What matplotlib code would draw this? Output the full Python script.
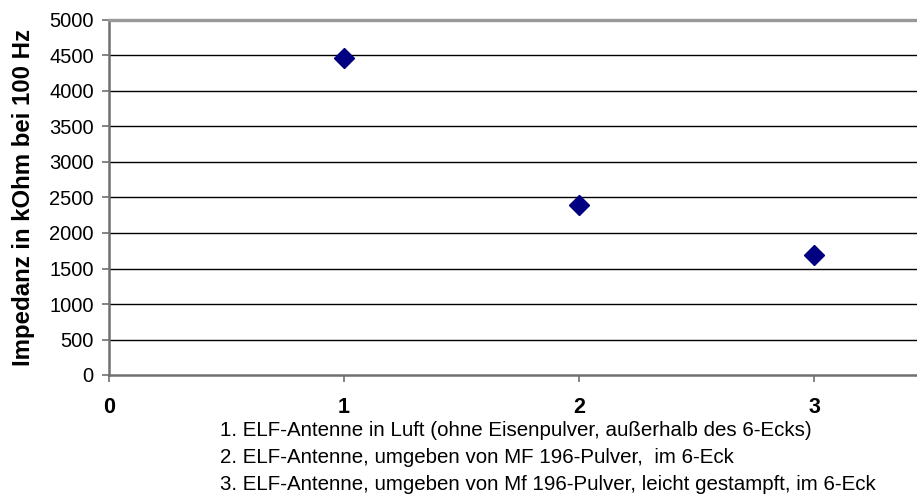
import matplotlib.pyplot as plt

# Messpunkte
versuch = [1, 2, 3]
impedanz = [4470, 2390, 1690]

x_ticks = [0, 1, 2, 3]
y_ticks = list(range(0, 5001, 500))

caption = [
    "1. ELF-Antenne in Luft (ohne Eisenpulver, außerhalb des 6-Ecks)",
    "2. ELF-Antenne, umgeben von MF 196-Pulver,  im 6-Eck",
    "3. ELF-Antenne, umgeben von Mf 196-Pulver, leicht gestampft, im 6-Eck",
]

def main():
    plt.rcParams['font.family'] = ['Liberation Sans', 'DejaVu Sans']

    fig = plt.figure(figsize=(9.17, 4.99), dpi=100)
    ax = fig.add_axes([109/917, 124/499, 1 - 109/917, 355/499])

    # Gitter
    for y in y_ticks[1:-1]:
        ax.axhline(y, color='black', lw=1, zorder=1)

    ax.plot(versuch, impedanz, linestyle='none', marker='D', ms=10,
            color='#000080', zorder=3)

    ax.set_xlim(0, (917 - 109) / 235)
    ax.set_ylim(0, 5000)
    ax.set_xticks(x_ticks)
    ax.set_yticks(y_ticks)

    for lbl in ax.get_xticklabels():
        lbl.set_fontweight('bold')
        lbl.set_fontsize(15.5)
    for lbl in ax.get_yticklabels():
        lbl.set_fontsize(14.5)

    ax.tick_params(axis='x', direction='out', length=5, width=1.2,
                   color='#707070', pad=11)
    ax.tick_params(axis='y', direction='out', length=5, width=1.2,
                   color='#707070', pad=6)

    ax.spines['right'].set_visible(False)
    for side in ('left', 'bottom'):
        ax.spines[side].set_color('#707070')
        ax.spines[side].set_linewidth(1.8)
    ax.spines['top'].set_color('#999999')
    ax.spines['top'].set_linewidth(2.4)

    ax.set_ylabel('Impedanz in kOhm bei 100 Hz', fontsize=17.3,
                  fontweight='bold')
    ax.yaxis.set_label_coords(-(109 - 35) / 808, 0.5)

    # Legende unter der Achse
    for i, line in enumerate(caption):
        fig.text(220 / 917, 1 - (430 + 27.5 * i) / 499, line,
                 fontsize=14.8, va='center', ha='left')

    fig.savefig('out.png', dpi=100)

if __name__ == '__main__':
    main()
